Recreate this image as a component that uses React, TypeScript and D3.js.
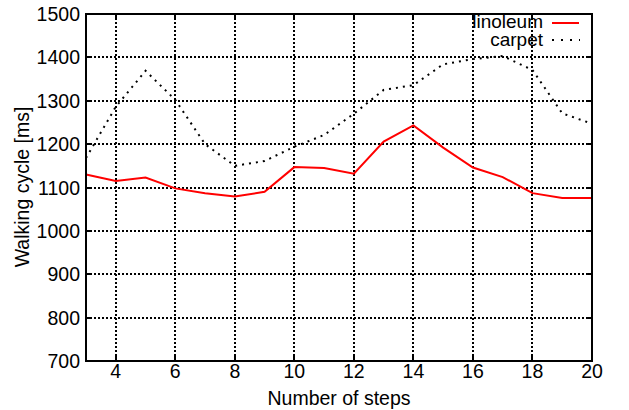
import { useEffect, useRef } from 'react'
import * as d3 from 'd3'

const STEPS = [3, 4, 5, 6, 7, 8, 9, 10, 11, 12, 13, 14, 15, 16, 17, 18, 19, 20]
const LINOLEUM = [1130, 1115, 1123, 1098, 1087, 1079, 1090, 1147, 1145, 1132, 1206, 1243, 1192, 1146, 1124, 1087, 1076, 1076]
const CARPET = [1168, 1286, 1369, 1302, 1200, 1150, 1161, 1194, 1221, 1270, 1325, 1336, 1384, 1396, 1403, 1371, 1271, 1247]
const X_TICKS = [4, 6, 8, 10, 12, 14, 16, 18, 20]
const Y_TICKS = [700, 800, 900, 1000, 1100, 1200, 1300, 1400, 1500]

export default function App() {
  const svgRef = useRef<SVGSVGElement>(null)

  useEffect(() => {
    document.body.style.margin = '0'
    if (!svgRef.current) return
    const W = 629, H = 410
    const L = 86, R = 592, T = 14, B = 361
    const font = 'Liberation Sans, Arial, Helvetica, sans-serif'
    const fs = 19.5

    const svg = d3.select(svgRef.current).attr('width', W).attr('height', H).attr('viewBox', `0 0 ${W} ${H}`)
    svg.selectAll('*').remove()
    svg.append('rect').attr('width', W).attr('height', H).attr('fill', 'white')

    const x = d3.scaleLinear().domain([3, 20]).range([L, R])
    const y = d3.scaleLinear().domain([700, 1500]).range([B, T])
    const px = (v: number) => Math.round(x(v))
    const py = (v: number) => Math.round(y(v))

    // grid
    const grid = svg.append('g').attr('stroke', 'black').attr('stroke-width', 2).attr('stroke-dasharray', '2,2')
      .attr('shape-rendering', 'crispEdges')
    X_TICKS.filter(t => t > 3 && t < 20).forEach(t => {
      grid.append('line').attr('x1', px(t)).attr('x2', px(t)).attr('y1', T).attr('y2', B)
    })
    Y_TICKS.filter(t => t > 700 && t < 1500).forEach(t => {
      grid.append('line').attr('y1', py(t)).attr('y2', py(t)).attr('x1', L).attr('x2', R)
    })

    // ticks inward on all sides
    const tk = svg.append('g').attr('stroke', 'black').attr('stroke-width', 2).attr('shape-rendering', 'crispEdges')
    X_TICKS.forEach(t => {
      tk.append('line').attr('x1', px(t)).attr('x2', px(t)).attr('y1', B).attr('y2', B - 6)
      tk.append('line').attr('x1', px(t)).attr('x2', px(t)).attr('y1', T).attr('y2', T + 6)
    })
    Y_TICKS.forEach(t => {
      tk.append('line').attr('y1', py(t)).attr('y2', py(t)).attr('x1', L).attr('x2', L + 6)
      tk.append('line').attr('y1', py(t)).attr('y2', py(t)).attr('x1', R).attr('x2', R - 6)
    })

    const line = d3.line<number>().x((_, i) => x(STEPS[i])).y(d => y(d))

    svg.append('path').attr('d', line(CARPET) ?? '').attr('fill', 'none')
      .attr('stroke', 'black').attr('stroke-width', 2).attr('stroke-dasharray', '2,5')
    svg.append('path').attr('d', line(LINOLEUM) ?? '').attr('fill', 'none')
      .attr('stroke', '#ff0000').attr('stroke-width', 2)

    // frame
    svg.append('rect').attr('x', L).attr('y', T).attr('width', R - L).attr('height', B - T)
      .attr('fill', 'none').attr('stroke', 'black').attr('stroke-width', 2)

    // tick labels
    X_TICKS.forEach(t => {
      svg.append('text').attr('x', x(t)).attr('y', B + 17).attr('text-anchor', 'middle')
        .attr('font-family', font).attr('font-size', fs).text(t)
    })
    Y_TICKS.forEach(t => {
      svg.append('text').attr('x', L - 6).attr('y', y(t) + 7).attr('text-anchor', 'end')
        .attr('font-family', font).attr('font-size', fs).text(t)
    })

    // axis labels
    svg.append('text').attr('x', (L + R) / 2).attr('y', 405).attr('text-anchor', 'middle')
      .attr('font-family', font).attr('font-size', fs).text('Number of steps')
    svg.append('text').attr('transform', `translate(29,187) rotate(-90)`).attr('text-anchor', 'middle')
      .attr('font-family', font).attr('font-size', fs).text('Walking cycle [ms]')

    // legend
    const lg = svg.append('g')
    lg.append('text').attr('x', 543).attr('y', 28).attr('text-anchor', 'end')
      .attr('font-family', font).attr('font-size', 19).text('linoleum')
    lg.append('line').attr('x1', 552).attr('x2', 579).attr('y1', 23).attr('y2', 23)
      .attr('stroke', '#ff0000').attr('stroke-width', 2)
    lg.append('text').attr('x', 543).attr('y', 46).attr('text-anchor', 'end')
      .attr('font-family', font).attr('font-size', 19).text('carpet')
    lg.append('line').attr('x1', 552).attr('x2', 580).attr('y1', 40).attr('y2', 40)
      .attr('stroke', 'black').attr('stroke-width', 2).attr('stroke-dasharray', '2,7')
  }, [])

  return <svg ref={svgRef} style={{ display: 'block' }} />
}
